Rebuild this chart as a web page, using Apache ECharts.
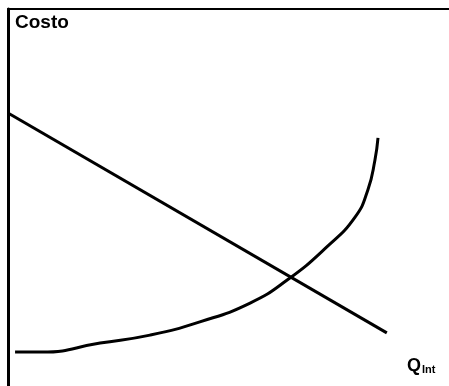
<!DOCTYPE html>
<html>
<head>
<meta charset="utf-8">
<script src="https://cdn.jsdelivr.net/npm/echarts@6/dist/echarts.min.js"></script>
<style>
  html, body { margin: 0; padding: 0; background: #fff; }
  #chart { width: 449px; height: 386px; }
</style>
</head>
<body>
<div id="chart"></div>
<script>
// Q (0-100) vs Costo (0-100)
const lineQ = [0, 85.9]
const lineCost = [72.4, 14.1]

const curveQ = [1.6, 7.7, 20.9, 32.2, 43.5, 54.9, 63.3, 72.3, 78.7, 81.6, 83.2, 83.9]
const curveCost = [9.0, 9.0, 11.4, 13.5, 17.0, 22.0, 28.1, 36.9, 44.8, 52.0, 59.9, 65.8]

const yLabel = 'Costo'
const xLabel = 'Q'
const xSub = 'Int'

const chart = echarts.init(document.getElementById('chart'))

const pair = (xs, ys) => xs.map((x, i) => [x, ys[i]])

const option = {
  animation: false,
  grid: { left: 8, top: 9, right: 0, bottom: 0 },
  xAxis: {
    type: 'value',
    position: 'top',
    min: 0,
    max: 100,
    axisLine: { show: true, onZero: false, lineStyle: { color: '#000', width: 2 } },
    axisTick: { show: false },
    axisLabel: { show: false },
    splitLine: { show: false }
  },
  yAxis: {
    type: 'value',
    min: 0,
    max: 100,
    axisLine: { show: true, onZero: false, lineStyle: { color: '#000', width: 3 } },
    axisTick: { show: false },
    axisLabel: { show: false },
    splitLine: { show: false }
  },
  graphic: [
    {
      type: 'text',
      left: 15,
      top: 13,
      style: { text: yLabel, font: 'bold 19px "Liberation Sans", Arial, sans-serif', fill: '#000' }
    },
    {
      type: 'text',
      left: 407,
      top: 357,
      style: {
        text: '{q|' + xLabel + '}{s|' + xSub + '}',
        rich: {
          q: { font: 'bold 18px "Liberation Sans", Arial, sans-serif', fill: '#000' },
          s: { font: 'bold 11px "Liberation Sans", Arial, sans-serif', fill: '#000', padding: [8, 0, 0, 1] }
        }
      }
    }
  ],
  series: [
    {
      type: 'line',
      data: pair(lineQ, lineCost),
      symbol: 'none',
      lineStyle: { color: '#000', width: 3 }
    },
    {
      type: 'line',
      data: pair(curveQ, curveCost),
      symbol: 'none',
      smooth: 0.5,
      lineStyle: { color: '#000', width: 3 }
    }
  ]
}

chart.setOption(option)
</script>
</body>
</html>
